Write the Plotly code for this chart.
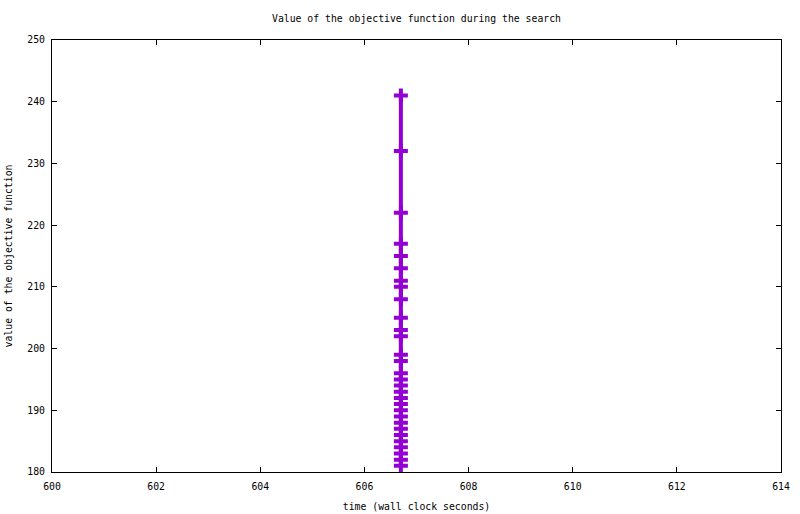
import plotly.graph_objects as go

times = [606.7] * 30
values = [241, 232, 222, 217, 215, 213, 211, 210, 208, 205, 203, 202, 199, 198,
          196, 195, 194, 193, 192, 191, 190, 189, 188, 187, 186, 185, 184, 183, 182, 181]
x_ticks = [600, 602, 604, 606, 608, 610, 612, 614]
y_ticks = [180, 190, 200, 210, 220, 230, 240, 250]

color = "#9400D3"
font = dict(family="DejaVu Sans Mono, Liberation Mono, monospace", size=9.8, color="black")

fig = go.Figure()
fig.add_trace(go.Scatter(
    x=times, y=values, mode="lines+markers",
    line=dict(color=color, width=4),
    marker=dict(symbol="cross-thin", size=10, line=dict(color=color, width=4), color=color),
    showlegend=False, cliponaxis=False,
))

axis_common = dict(
    showgrid=False, zeroline=False, showline=True, linecolor="black", linewidth=1,
    mirror="ticks", ticks="inside", ticklen=5, tickcolor="black", tickwidth=1,
    tickfont=font, automargin=False,
)
fig.update_layout(
    width=800, height=514,
    margin=dict(l=52, r=19, t=40, b=42, autoexpand=False),
    paper_bgcolor="white", plot_bgcolor="white",
    font=font,
    title=dict(text="Value of the objective function during the search",
               x=0.5, xanchor="center", xref="paper", y=1 - 19 / 514, yref="container",
               yanchor="middle", font=font, automargin=False),
    xaxis=dict(range=[600, 614], tickvals=x_ticks, ticklabelstandoff=5,
               title=dict(text="time (wall clock seconds)", font=font, standoff=12),
               **axis_common),
    yaxis=dict(range=[180, 250], tickvals=y_ticks, ticklabelstandoff=4,
               title=dict(text="value of the objective function", font=font, standoff=12),
               **axis_common),
)
fig.write_html("out.html", config={"displayModeBar": False},
               post_script="document.body.style.margin='0';document.body.style.overflow='hidden';")
